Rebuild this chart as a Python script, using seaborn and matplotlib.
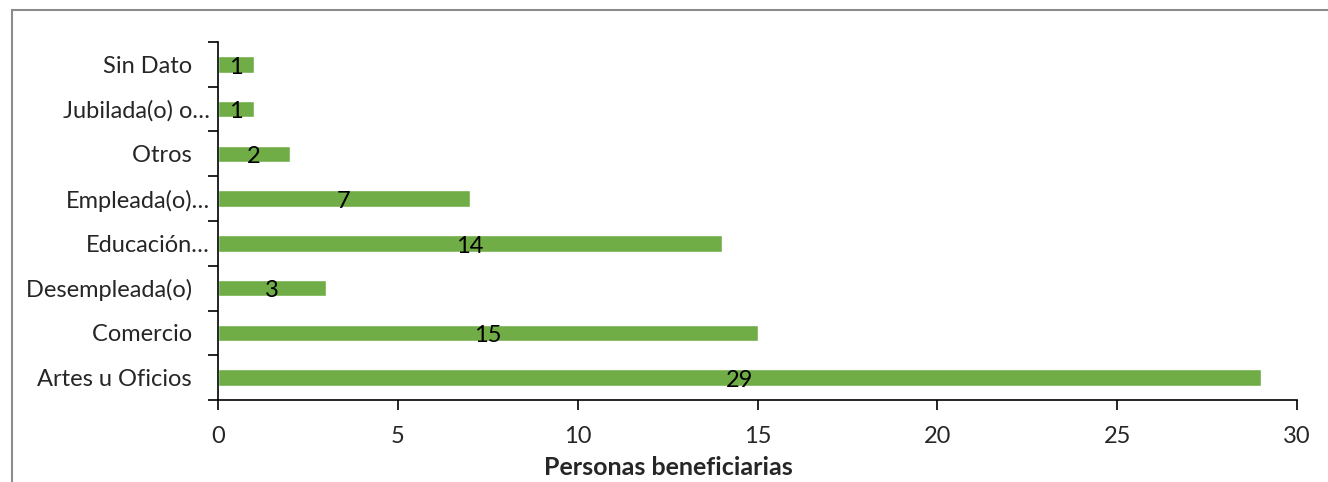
import matplotlib
matplotlib.use('Agg')
import matplotlib.pyplot as plt
from matplotlib.lines import Line2D
from matplotlib.ticker import FixedLocator
import seaborn as sns
import pandas as pd

# Datos (de arriba hacia abajo)
categorias = ['Sin Dato   ', 'Jubilada(o) o…', 'Otros   ', 'Empleada(o)…',
              'Educación…', 'Desempleada(o)   ', 'Comercio   ', 'Artes u Oficios   ']
valores = [1, 1, 2, 7, 14, 3, 15, 29]
ticks_x = [0, 5, 10, 15, 20, 25, 30]

df = pd.DataFrame({'categoria': categorias, 'personas': valores})

sns.set_style('white')
plt.rcParams['font.family'] = ['Lato', 'DejaVu Sans']

fig = plt.figure(figsize=(13.28, 4.82), dpi=100)
ax = fig.add_axes([0.1642, 0.1701, 0.8125, 0.7428])

sns.barplot(data=df, x='personas', y='categoria', orient='h', color='#70AD47',
            width=0.37, saturation=1, ax=ax)

# Etiquetas de valor en el centro de cada barra
for i, v in enumerate(valores):
    ax.text(v / 2, i + 0.06, str(v), ha='center', va='center', fontsize=17, color='black')

ax.set_xlim(0, 30)
ax.set_ylim(len(categorias) - 0.5, -0.5)
ax.set_xticks(ticks_x)
ax.set_xticklabels([str(t) for t in ticks_x], fontsize=17)
ax.tick_params(axis='x', bottom=True, direction='out', length=7, width=1.2,
               color='black', pad=12)

ax.set_yticks(range(len(categorias)))
ax.set_yticklabels(categorias, fontsize=17)
ax.tick_params(axis='y', which='major', left=True, length=0, pad=6)
ax.yaxis.set_minor_locator(FixedLocator([i - 0.5 for i in range(len(categorias) + 1)]))
ax.tick_params(axis='y', which='minor', left=True, direction='out', length=7,
               width=1.2, color='black')

ax.set_xlabel('Personas beneficiarias', fontsize=18, fontweight='bold')
ax.xaxis.set_label_coords(0.417, -0.155)
ax.set_ylabel('')

for lado in ['top', 'right']:
    ax.spines[lado].set_visible(False)
for lado in ['left', 'bottom']:
    ax.spines[lado].set_color('black')
    ax.spines[lado].set_linewidth(1.2)

# Borde gris del área del gráfico
fig.add_artist(Line2D([12 / 1328, 1], [1 - 10 / 482, 1 - 10 / 482], color='#8c8c8c', lw=1.5))
fig.add_artist(Line2D([12 / 1328, 12 / 1328], [0, 1 - 10 / 482], color='#8c8c8c', lw=1.5))

fig.savefig('out.png', dpi=100)
